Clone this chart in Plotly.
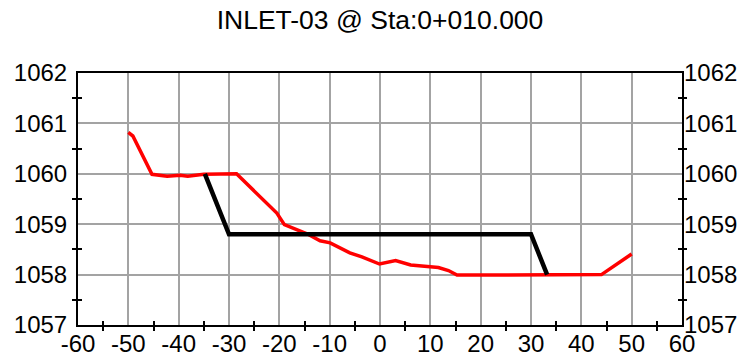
import plotly.graph_objects as go

# Ground profile (red)
ground_x = [-50.0, -49.1, -45.3, -42.3, -39.7, -38.2, -35.0, -28.5, -20.5, -19.0, -14.5,
            -11.9, -9.9, -6.0, -3.6, -0.1, 3.1, 6.1, 11.6, 13.6, 15.3, 44.0, 50.0]
ground_y = [1060.82, 1060.75, 1059.99, 1059.95, 1059.97, 1059.95, 1059.99, 1060.0, 1059.22,
            1058.99, 1058.81, 1058.67, 1058.63, 1058.43, 1058.35, 1058.21, 1058.28, 1058.19,
            1058.14, 1058.08, 1057.99, 1058.0, 1058.41]

# Design template (black)
design_x = [-34.8, -30.0, 30.0, 33.2]
design_y = [1060.0, 1058.8, 1058.8, 1058.0]

title_text = "INLET-03 @ Sta:0+010.000"

x_ticks = [-60, -50, -40, -30, -20, -10, 0, 10, 20, 30, 40, 50, 60]
x_labels = ["-60", "-50", "-40", "-30", "-20", "-10", "0", "10", "20", "30", "40", "50", "60"]
x_minor = [-55, -45, -35, -25, -15, -5, 5, 15, 25, 35, 45, 55]
y_ticks = [1057, 1058, 1059, 1060, 1061, 1062]
y_labels = ["1057", "1058", "1059", "1060", "1061", "1062"]
y_minor = [1057.5, 1058.5, 1059.5, 1060.5, 1061.5]

x_range = [-60, 60]
y_range = [1057, 1062]

FONT = "Liberation Sans, Arial, sans-serif"

fig = go.Figure()
fig.add_trace(go.Scatter(x=ground_x, y=ground_y, mode="lines",
                         line=dict(color="#ff0000", width=3.5), xaxis="x", yaxis="y",
                         hoverinfo="skip"))
fig.add_trace(go.Scatter(x=design_x, y=design_y, mode="lines",
                         line=dict(color="#000000", width=4.5), xaxis="x", yaxis="y",
                         hoverinfo="skip"))

# invisible helper traces so the overlay axes (used only for cross ticks) are drawn
for xa, ya in [("x2", "y2"), ("x", "y3"), ("x", "y4")]:
    fig.add_trace(go.Scatter(x=[0], y=[1060], mode="markers", marker=dict(opacity=0),
                             xaxis=xa, yaxis=ya, hoverinfo="skip"))

grid = "#a3a3a3"

def minor_cfg(vals, direction):
    return dict(tickmode="array", tickvals=vals, ticks=direction, ticklen=4,
                tickwidth=1.5, tickcolor="black", showgrid=False)

common = dict(zeroline=False, automargin=False, fixedrange=True)

fig.update_layout(
    width=744, height=364,
    margin=dict(l=78, r=62, t=73, b=39),
    paper_bgcolor="white", plot_bgcolor="white",
    showlegend=False,
    font=dict(family=FONT, color="black", size=24),
    title=dict(text=title_text, x=380 / 744, xanchor="center", y=1 - 20 / 364, yanchor="middle",
               font=dict(family=FONT, size=26.5, color="black")),
    xaxis=dict(range=x_range, tickmode="array", tickvals=x_ticks, ticktext=x_labels,
               ticks="", showgrid=True, gridcolor=grid, gridwidth=2,
               showline=True, linecolor="black", linewidth=2, mirror=True,
               tickfont=dict(size=24), ticklabelstandoff=-4,
               minor=minor_cfg(x_minor, "outside"), **common),
    xaxis2=dict(range=x_range, overlaying="x", side="bottom", anchor="y",
                showticklabels=False, ticks="", showgrid=False,
                showline=False, tickmode="array", tickvals=x_ticks,
                minor=minor_cfg(x_minor, "inside"), **common),
    yaxis=dict(range=y_range, tickmode="array", tickvals=y_ticks, ticktext=y_labels,
               ticks="", showgrid=True, gridcolor=grid, gridwidth=2,
               showline=True, linecolor="black", linewidth=2, mirror=True,
               tickfont=dict(size=24), ticklabelstandoff=4,
               minor=minor_cfg(y_minor, "outside"), **common),
    yaxis2=dict(range=y_range, overlaying="y", side="right", anchor="x2",
                tickmode="array", tickvals=y_ticks, ticktext=y_labels, ticks="",
                showgrid=False, showline=False,
                tickfont=dict(size=24), ticklabelstandoff=1,
                minor=minor_cfg(y_minor, "outside"), **common),
    yaxis3=dict(range=y_range, overlaying="y", side="left", anchor="x",
                showticklabels=False, ticks="", showgrid=False,
                showline=False, tickmode="array", tickvals=y_ticks,
                minor=minor_cfg(y_minor, "inside"), **common),
    yaxis4=dict(range=y_range, overlaying="y", side="right", anchor="x",
                showticklabels=False, ticks="", showgrid=False,
                showline=False, tickmode="array", tickvals=y_ticks,
                minor=minor_cfg(y_minor, "inside"), **common),
)

fig.write_html("out.html")
